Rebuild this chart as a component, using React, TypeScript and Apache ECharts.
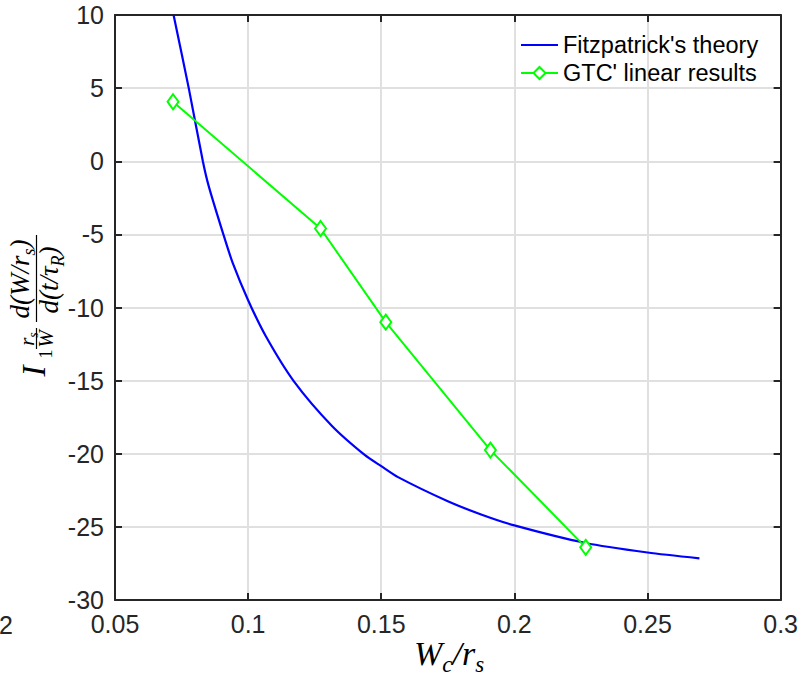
import React, { useEffect, useRef } from "react";
import * as echarts from "echarts";

const fitzX = [0.072, 0.0777, 0.083, 0.0852, 0.0907, 0.0942, 0.1, 0.1066, 0.1172, 0.1315, 0.1439, 0.15, 0.1563, 0.175, 0.1875, 0.2, 0.2267, 0.25, 0.2695];
const fitzY = [10, 5, 0, -1.7, -5, -6.95, -9.5, -11.95, -15.05, -18.1, -20.1, -20.85, -21.6, -23.25, -24.15, -24.9, -26.1, -26.75, -27.15];

const gtcX = [0.0718, 0.1272, 0.1517, 0.191, 0.2268];
const gtcY = [4.07, -4.6, -11.0, -19.75, -26.4];

const seriesNames = ["Fitzpatrick's theory", "GTC' linear results"];
const xTicks = { min: 0.05, max: 0.3, step: 0.05 };
const yTicks = { min: -30, max: 10, step: 5 };

const AX = "#262626";
const SERIF = "'Liberation Serif', 'DejaVu Serif', serif";
const SANS = "'Liberation Sans', Arial, sans-serif";

function rot(x: number, y: number, text: string, rich: any) {
  return {
    type: "text",
    x,
    y,
    rotation: Math.PI / 2,
    style: { text, rich, align: "center", verticalAlign: "middle", fill: "#000", fontFamily: SERIF },
  };
}

export default function App() {
  const ref = useRef<HTMLDivElement>(null);
  useEffect(() => {
    if (!ref.current) return;
    const chart = echarts.init(ref.current, null, { renderer: "svg" });
    const m = (fs: number, pb: number) => ({ fontSize: fs, fontStyle: "italic", fontFamily: SERIF, fill: "#000", padding: [0, 0, pb, 0] });
    const sub = (fs: number) => ({ fontSize: fs, fontStyle: "italic", fontFamily: SERIF, fill: "#000", verticalAlign: "bottom" });
    const subR = (fs: number) => ({ fontSize: fs, fontFamily: SERIF, fill: "#000", verticalAlign: "bottom" });
    const fmt = (v: number) => String(parseFloat(v.toFixed(2)));
    chart.setOption({
      animation: false,
      backgroundColor: "#fff",
      grid: { left: 115, top: 15, right: 16, bottom: 79, containLabel: false },
      legend: {
        orient: "vertical",
        left: 515,
        top: 28,
        itemWidth: 37,
        itemHeight: 15,
        itemGap: 4,
        textStyle: { fontSize: 23.5, fontFamily: SANS, color: "#000" },
        data: [
          { name: seriesNames[0], itemStyle: { color: "transparent", borderWidth: 0, opacity: 0 } },
          { name: seriesNames[1] },
        ],
      },
      xAxis: [
        {
          type: "value",
          min: xTicks.min,
          max: xTicks.max,
          interval: xTicks.step,
          axisLine: { show: true, onZero: false, lineStyle: { color: AX, width: 2 } },
          axisTick: { show: true, inside: true, length: 7, lineStyle: { color: AX, width: 2 } },
          axisLabel: { fontSize: 25, fontFamily: SANS, color: AX, margin: 11, formatter: fmt },
          splitLine: { show: true, lineStyle: { color: "#e0e0e0", width: 2 } },
        },
        {
          type: "value",
          position: "top",
          min: xTicks.min,
          max: xTicks.max,
          interval: xTicks.step,
          axisLine: { show: true, onZero: false, lineStyle: { color: AX, width: 2 } },
          axisTick: { show: true, inside: true, length: 7, lineStyle: { color: AX, width: 2 } },
          axisLabel: { show: false },
          splitLine: { show: false },
        },
      ],
      yAxis: [
        {
          type: "value",
          min: yTicks.min,
          max: yTicks.max,
          interval: yTicks.step,
          axisLine: { show: true, onZero: false, lineStyle: { color: AX, width: 2 } },
          axisTick: { show: true, inside: true, length: 7, lineStyle: { color: AX, width: 2 } },
          axisLabel: { fontSize: 25, fontFamily: SANS, color: AX, margin: 11 },
          splitLine: { show: true, lineStyle: { color: "#e0e0e0", width: 2 } },
        },
        {
          type: "value",
          position: "right",
          min: yTicks.min,
          max: yTicks.max,
          interval: yTicks.step,
          axisLine: { show: true, onZero: false, lineStyle: { color: AX, width: 2 } },
          axisTick: { show: true, inside: true, length: 7, lineStyle: { color: AX, width: 2 } },
          axisLabel: { show: false },
          splitLine: { show: false },
        },
      ],
      series: [
        {
          name: seriesNames[0],
          type: "line",
          data: fitzX.map((x, i) => [x, fitzY[i]]),
          showSymbol: false,
          symbol: "none",
          smooth: 0.25,
          lineStyle: { color: "#0000ff", width: 2.2 },
          itemStyle: { color: "#0000ff" },
          clip: true,
        },
        {
          name: seriesNames[1],
          type: "line",
          data: gtcX.map((x, i) => [x, gtcY[i]]),
          symbol: "diamond",
          symbolSize: [11, 15],
          lineStyle: { color: "#00ff00", width: 2 },
          itemStyle: { color: "#ffffff", borderColor: "#00ff00", borderWidth: 2 },
          z: 3,
        },
      ],
      graphic: [
        {
          type: "text",
          x: 449,
          y: 656,
          style: {
            text: "{m|W}{s|c}{m|/r}{s|s}",
            align: "center",
            verticalAlign: "middle",
            rich: { m: m(34, 5), s: sub(23) },
          },
        },
        { type: "text", x: -1, y: 625, style: { text: "2", fontSize: 25, fontFamily: SANS, fill: AX, align: "left", verticalAlign: "middle" } },
        // y-axis label pieces (rotated)
        rot(34, 371, "{m|I}", { m: m(33, 0) }),
        rot(46, 354, "{r|1}", { r: subR(18) }),
        rot(28, 339, "{m|r}{s|s}", { m: m(21, 3), s: sub(14) }),
        { type: "line", shape: { x1: 36.5, y1: 328, x2: 36.5, y2: 349 }, style: { stroke: "#000", lineWidth: 1.2 } },
        rot(46, 339, "{m|W}", { m: m(21, 0) }),
        rot(22, 279, "{m|d(W/r}{s|s}{m|)}", { m: m(27, 4), s: sub(18) }),
        { type: "line", shape: { x1: 36.5, y1: 235, x2: 36.5, y2: 322 }, style: { stroke: "#000", lineWidth: 1.2 } },
        rot(51, 280, "{m|d(t/τ}{s|R}{m|)}", { m: m(27, 4), s: sub(18) }),
      ],
    });
    return () => chart.dispose();
  }, []);
  return <div ref={ref} style={{ position: "absolute", left: 0, top: 0, width: 801, height: 679, background: "#fff" }} />;
}
